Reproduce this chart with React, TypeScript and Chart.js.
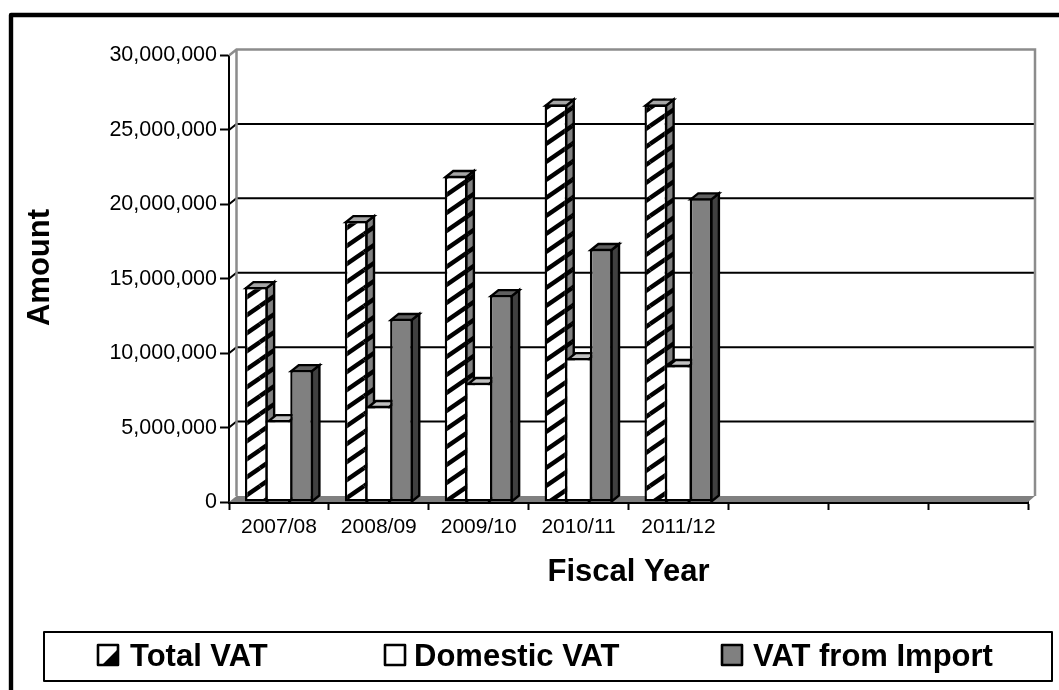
import React, { useEffect, useRef } from "react";
import { Chart, registerables } from "chart.js";

Chart.register(...registerables);

const fiscalYears = ["2007/08", "2008/09", "2009/10", "2010/11", "2011/12", "", "", ""];
const totalVat = [14440000, 18870000, 21900000, 26700000, 26700000];
const domesticVat = [5500000, 6450000, 8000000, 9670000, 9200000];
const importVat = [8860000, 12300000, 13900000, 17000000, 20400000];

const FONT = "'Liberation Sans', Arial, sans-serif";
const DEPTH_X = 7.5;
const DEPTH_Y = -6;

// Diagonal hatch used for the Total VAT faces.
function hatch(base: string, ink: string) {
  const tile = document.createElement("canvas");
  tile.width = 26;
  tile.height = 18;
  const c = tile.getContext("2d")!;
  c.fillStyle = base;
  c.fillRect(0, 0, 26, 18);
  c.strokeStyle = ink;
  c.lineWidth = 4.4;
  for (const [ox, oy] of [[0, 0], [-26, 0], [26, 0], [0, -18], [0, 18]]) {
    c.beginPath();
    c.moveTo(ox, oy + 18);
    c.lineTo(ox + 26, oy);
    c.stroke();
  }
  return c.createPattern(tile, "repeat")!;
}

// Side and top faces of one dataset's bars.
function drawDepthFaces(chart: any, index: number) {
  const { ctx } = chart;
  const ds = chart.data.datasets[index];
  ctx.save();
  ctx.strokeStyle = "#000";
  ctx.lineWidth = 2.4;
  chart.getDatasetMeta(index).data.forEach((bar: any) => {
    const { x, y, base, width } = bar.getProps(["x", "y", "base", "width"], true);
    const l = x - width / 2 + 1;
    const r = x + width / 2 - 1;
    const t = y + 1;
    ctx.fillStyle = ds.sideFill;
    ctx.beginPath();
    ctx.moveTo(r, t);
    ctx.lineTo(r + DEPTH_X, t + DEPTH_Y);
    ctx.lineTo(r + DEPTH_X, base + DEPTH_Y);
    ctx.lineTo(r, base);
    ctx.closePath();
    ctx.fill();
    ctx.stroke();
    ctx.fillStyle = ds.topFill;
    ctx.beginPath();
    ctx.moveTo(l, t);
    ctx.lineTo(l + DEPTH_X, t + DEPTH_Y);
    ctx.lineTo(r + DEPTH_X, t + DEPTH_Y);
    ctx.lineTo(r, t);
    ctx.closePath();
    ctx.fill();
    ctx.stroke();
  });
  ctx.restore();
}

// Back wall, floor and gridlines of the box, offset from the axes by the depth;
// bars are painted left to right so each one covers its neighbour's side face.
const boxPlugin = {
  id: "box3d",
  beforeDatasetsDraw(chart: any) {
    const { ctx, chartArea: a, scales } = chart;
    const y = scales.y;
    const backL = a.left + DEPTH_X;
    const backR = a.right + DEPTH_X - 0.5;
    const backT = a.top + DEPTH_Y;
    const backB = a.bottom + DEPTH_Y;
    ctx.save();
    ctx.strokeStyle = "#000";
    ctx.lineWidth = 2;
    y.ticks.forEach((t: any, i: number) => {
      const py = y.getPixelForTick(i);
      if (t.value > 0 && t.value < y.max) {
        ctx.beginPath();
        ctx.moveTo(a.left, py);
        ctx.lineTo(backL, py + DEPTH_Y);
        ctx.lineTo(backR, py + DEPTH_Y);
        ctx.stroke();
      }
    });
    ctx.strokeStyle = "#8c8c8c";
    ctx.lineWidth = 2.5;
    ctx.beginPath();
    ctx.moveTo(a.left, a.top);
    ctx.lineTo(backL, backT);
    ctx.lineTo(backR, backT);
    ctx.lineTo(backR, backB);
    ctx.moveTo(backL, backT);
    ctx.lineTo(backL, backB);
    ctx.stroke();
    ctx.fillStyle = "#808080";
    ctx.beginPath();
    ctx.moveTo(a.left, a.bottom);
    ctx.lineTo(backL, backB);
    ctx.lineTo(backR, backB);
    ctx.lineTo(a.right, a.bottom);
    ctx.closePath();
    ctx.fill();
    ctx.restore();
  },
  beforeDatasetDraw() {
    return false;
  },
  afterDatasetsDraw(chart: any) {
    chart.data.datasets.forEach((_: any, i: number) => {
      drawDepthFaces(chart, i);
      chart.getDatasetMeta(i).controller.draw();
    });
  },
};

// Outer frame, the rotated value-axis title and the boxed legend.
const framePlugin = {
  id: "frame",
  afterDraw(chart: any) {
    const { ctx } = chart;
    ctx.save();
    ctx.strokeStyle = "#000";
    ctx.lineWidth = 4.4;
    ctx.lineJoin = "round";
    ctx.beginPath();
    ctx.moveTo(11, 690);
    ctx.lineTo(11, 15);
    ctx.lineTo(1059, 15);
    ctx.stroke();

    ctx.fillStyle = "#000";
    ctx.font = `bold 31px ${FONT}`;
    ctx.textAlign = "center";
    ctx.textBaseline = "middle";
    ctx.save();
    ctx.translate(40, 267.5);
    ctx.rotate(-Math.PI / 2);
    ctx.fillText("Amount", 0, 0);
    ctx.restore();

    ctx.fillStyle = "#fff";
    ctx.fillRect(44, 632, 1008, 49);
    ctx.lineWidth = 2;
    ctx.strokeRect(44, 632, 1008, 49);

    const items = [
      { x: 98, textX: 130 },
      { x: 385, textX: 414 },
      { x: 722, textX: 753 },
    ];
    ctx.textAlign = "left";
    ctx.textBaseline = "alphabetic";
    chart.data.datasets.forEach((ds: any, i: number) => {
      const it = items[i];
      ctx.fillStyle = i === 0 ? "#fff" : ds.backgroundColor;
      ctx.fillRect(it.x, 645, 20, 20);
      if (i === 0) {
        ctx.fillStyle = "#000";
        ctx.beginPath();
        ctx.moveTo(it.x + 20, 649);
        ctx.lineTo(it.x + 20, 665);
        ctx.lineTo(it.x + 4, 665);
        ctx.closePath();
        ctx.fill();
      }
      ctx.strokeStyle = "#000";
      ctx.lineWidth = 2.6;
      ctx.strokeRect(it.x, 645, 20, 20);
      ctx.fillStyle = "#000";
      ctx.font = `bold 31px ${FONT}`;
      ctx.fillText(ds.label, it.textX, 665.5);
    });
    ctx.restore();
  },
};

export default function App() {
  const ref = useRef<HTMLCanvasElement>(null);
  useEffect(() => {
    const edge = { borderColor: "#000", borderWidth: 2.4, borderSkipped: false };
    const chart = new Chart(ref.current!, {
      type: "bar",
      data: {
        labels: fiscalYears,
        datasets: [
          { label: "Total VAT", data: totalVat, backgroundColor: hatch("#fff", "#000"), sideFill: hatch("#808080", "#000"), topFill: "#a6a6a6", ...edge },
          // Neighbouring bars supply this bar's vertical edges.
          { label: "Domestic VAT", data: domesticVat, backgroundColor: "#fff", sideFill: "#808080", topFill: "#c0c0c0", ...edge, borderWidth: { top: 2.4, bottom: 2.4, left: 0, right: 0 } },
          { label: "VAT from Import", data: importVat, backgroundColor: "#808080", sideFill: "#404040", topFill: "#606060", ...edge },
        ] as any,
      },
      plugins: [boxPlugin, framePlugin],
      options: {
        responsive: false,
        animation: false,
        layout: { padding: { top: 55.5, right: 31, left: 0, bottom: 0 } },
        datasets: { bar: { categoryPercentage: 0.68, barPercentage: 1 } },
        plugins: { legend: { display: false }, tooltip: { enabled: false }, title: { display: false } },
        scales: {
          x: {
            afterFit: (s: any) => { s.height = 188; },
            border: { display: true, color: "#000", width: 3 },
            grid: { drawOnChartArea: false, color: "#000", tickColor: "#000", tickLength: 8, tickWidth: 2 },
            ticks: { color: "#000", font: { family: FONT, size: 21 }, autoSkip: false, maxRotation: 0, padding: 5 },
            title: {
              display: true,
              text: "Fiscal Year",
              color: "#000",
              font: { family: FONT, size: 31, weight: "bold" },
              padding: { top: 0, bottom: 99 },
            },
          },
          y: {
            min: 0,
            max: 30000000,
            afterFit: (s: any) => { s.width = 229; },
            border: { display: true, color: "#000", width: 2 },
            grid: { drawOnChartArea: false, color: "#000", tickColor: "#000", tickLength: 9, tickWidth: 2 },
            ticks: {
              stepSize: 5000000,
              color: "#000",
              font: { family: FONT, size: 21.5 },
              padding: 3,
              callback: (v: any) => Number(v).toLocaleString("en-US"),
            },
          },
        },
      } as any,
    });
    return () => chart.destroy();
  }, []);
  return (
    <div style={{ position: "absolute", left: 0, top: 0, background: "#fff" }}>
      <canvas ref={ref} width={1059} height={690} style={{ display: "block" }} />
    </div>
  );
}
